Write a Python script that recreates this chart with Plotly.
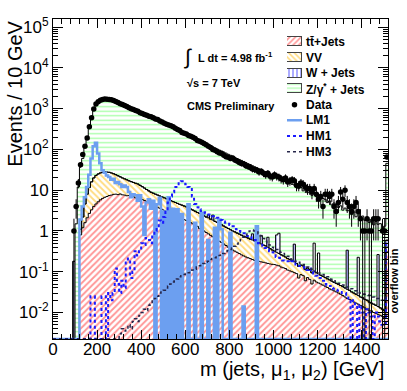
import numpy as np
import plotly.graph_objects as go

# 10 GeV bins, lower edges; the last bin (1510-1520) holds the overflow
bin_lo = np.arange(0, 1520, 10)

data_counts = [
    0, 0, 0, 0, 0, 0, 0, 0, 0, 1,
    4, 15, 42, 75, 120, 190, 360, 600, 980, 1300,
    1480, 1600, 1680, 1720, 1700, 1690, 1650, 1580, 1500, 1420,
    1330, 1260, 1190, 1130, 1060, 1000, 950, 900, 860, 800,
    760, 720, 690, 650, 630, 600, 560, 540, 500, 470,
    440, 415, 400, 380, 360, 330, 310, 290, 260, 250,
    240, 220, 210, 200, 185, 165, 160, 150, 140, 130,
    120, 112, 100, 95, 88, 82, 80, 72, 66, 64,
    60, 62, 55, 52, 48, 45, 44, 40, 38, 36,
    33, 32, 31, 28, 29, 26, 24, 26, 22, 21,
    24, 22, 21, 19, 18, 20, 16, 17, 18, 17,
    13, 13, 15, 14, 12, 11, 11, 9, 11, 8,
    6, 7, 4, 8, 8, 7, 8, 4, 3, 5,
    9, 6, 10, 5, 4, 3, 4, 5, 3, 2,
    1, 1, 2, 1, 1, 2, 2, 2, 0, 1,
    1, 65,
]

ttbar = [
    0, 0, 0, 0, 0, 0, 0, 0, 0, 0,
    0, 0, 0.8, 1.2, 1.6, 2.1, 2.7, 3.3, 4.0, 4.6,
    5.2, 5.8, 6.3, 6.7, 7.0, 7.4, 7.6, 7.9, 8.0, 7.8,
    8.1, 7.7, 7.6, 7.3, 7.4, 7.0, 6.9, 6.5, 6.6, 6.2,
    5.9, 5.6, 5.3, 5.0, 4.7, 4.4, 4.1, 3.8, 3.6, 3.4,
    3.2, 3.05, 2.9, 2.8, 2.6, 2.45, 2.3, 2.15, 2.0, 1.9,
    1.8, 1.7, 1.6, 1.5, 1.4, 1.3, 1.15, 1.07, 1.0, 0.92,
    0.85, 0.78, 0.72, 0.66, 0.6, 0.56, 0.52, 0.48, 0.44, 0.4,
    0.36, 0.34, 0.32, 0.3, 0.28, 0.26, 0.245, 0.23, 0.22, 0.21,
    0.2, 0.19, 0.185, 0.18, 0.175, 0.17, 0.165, 0.16, 0.155, 0.152,
    0.15, 0.145, 0.14, 0.13, 0.125, 0.12, 0.11, 0.105, 0.1, 0.095,
    0.09, 0.07, 0.085, 0.08, 0.06, 0.072, 0.065, 0.05, 0.062, 0.056,
    0.053, 0.05, 0.047, 0.044, 0.041, 0.038, 0.036, 0.034, 0.032, 0.03,
    0.028, 0.026, 0.024, 0.022, 0.021, 0.02, 0.018, 0.017, 0.016, 0.015,
    0.014, 0.013, 0.012, 0.011, 0.011, 0.01, 0.0095, 0.009, 0.0085, 0.008,
    0.0075, 0.3,
]

vv = [
    0, 0, 0, 0, 0, 0, 0, 0, 0, 0,
    0, 0, 0.3, 1.0, 3.0, 5.9, 9.0, 12.7, 16, 18.4,
    19.8, 20.7, 21.2, 21.3, 20.8, 20.1, 18.9, 17.4, 16, 14.8,
    13.2, 12.3, 11.4, 10.7, 9.6, 9.2, 8.6, 8.3, 7.6, 7.0,
    6.3, 5.7, 5.1, 4.6, 4.2, 4.05, 3.9, 3.8, 3.6, 3.45,
    3.3, 3.1, 2.95, 2.75, 2.65, 2.55, 2.45, 2.35, 2.3, 2.2,
    2.1, 1.95, 1.85, 1.75, 1.65, 1.55, 1.55, 1.43, 1.35, 1.28,
    1.25, 1.17, 1.13, 1.06, 1.02, 0.96, 0.9, 0.84, 0.79, 0.75,
    0.71, 0.66, 0.63, 0.59, 0.56, 0.53, 0.5, 0.48, 0.45, 0.42,
    0.4, 0.38, 0.355, 0.33, 0.305, 0.28, 0.265, 0.24, 0.215, 0.19,
    0.17, 0.155, 0.14, 0.13, 0.12, 0.11, 0.1, 0.095, 0.085, 0.08,
    0.07, 0.065, 0.06, 0.059, 0.055, 0.052, 0.048, 0.044, 0.041, 0.038,
    0.035, 0.032, 0.03, 0.028, 0.026, 0.025, 0.023, 0.021, 0.02, 0.019,
    0.018, 0.017, 0.016, 0.015, 0.014, 0.012, 0.012, 0.011, 0.01, 0.009,
    0.009, 0.008, 0.008, 0.007, 0.006, 0.006, 0.0055, 0.005, 0.0045, 0.004,
    0.0035, 0.1,
]

wjets = [
    0, 0, 0, 0, 0, 0, 0, 0, 0, 0.18,
    0, 0, 0, 0, 0, 0, 0, 0, 0, 0,
    0, 0, 0, 0, 0, 0, 0, 0, 0, 0,
    0, 0, 0, 0, 0, 0, 0, 0, 0, 0,
    0, 0, 0, 0, 0, 0, 0, 0, 0, 0,
    0, 0, 0, 0, 0, 0, 0, 0, 0, 0,
    0, 0, 0, 0, 0, 0, 0, 0, 0, 0,
    0.4, 0, 0.6, 0, 0, 0, 0, 0, 0, 0,
    0, 0, 0, 0, 0, 0, 0, 0, 0, 0,
    0.25, 0, 0, 0, 0.3, 0, 0, 0.3, 0, 0,
    0, 0.5, 0.6, 0, 0, 0, 0, 0, 0, 0.3,
    0, 0, 0, 0, 0, 0, 0, 0, 0.4, 0,
    0.2, 0, 0, 0, 0, 0, 0, 0, 0, 0,
    0, 0, 0, 0.3, 0, 0, 0, 0, 0.2, 0,
    0, 0, 0, 0, 0, 0, 0, 0.25, 0, 0,
    0, 0.2,
]

zjets = [
    0, 0, 0, 0, 0, 0, 0, 0, 0, 0,
    1.5, 12, 38, 58, 115, 175, 320, 550, 880, 1230,
    1460, 1600, 1700, 1750, 1760, 1740, 1690, 1600, 1510, 1425,
    1340, 1265, 1192, 1124, 1060, 1000, 943, 889, 838, 790,
    745, 703, 663, 625, 589, 556, 524, 494, 466, 439,
    414, 391, 368, 347, 328, 309, 291, 275, 259, 244,
    230, 217, 205, 193, 182, 172, 162, 153, 144, 136,
    128, 121, 114, 107, 101, 95, 90, 85, 80, 75,
    71, 67, 63, 59, 56, 53, 50, 47, 44, 42,
    39, 37, 35, 33, 31, 29, 28, 26, 25, 23,
    22, 21, 19.5, 18.5, 17.5, 16.5, 15.5, 14.6, 13.8, 13,
    12.2, 10.8, 11.6, 9.5, 10.4, 8.6, 9.1, 7.4, 8.2, 6.9,
    7.3, 6.0, 6.2, 5.9, 4.9, 5.4, 4.3, 4.8, 4.4, 3.7,
    4.1, 3.2, 3.6, 2.8, 3.2, 2.5, 2.9, 2.2, 2.6, 1.9,
    2.3, 1.8, 2.1, 1.6, 1.9, 1.4, 1.7, 1.2, 1.5, 1.1,
    1.3, 45,
]

lm1 = [
    0, 0, 0, 0, 0, 0, 0, 0, 0, 0,
    0, 0, 1.9, 4, 6.7, 12, 24, 60, 120, 145,
    80, 46, 31, 27, 23, 21, 18, 19, 15, 16,
    14, 12, 13, 12, 9, 6.7, 8, 7.5, 5.5, 7.5,
    4, 0.8, 5, 6, 3.5, 5.5, 0, 4.5, 6.5, 0,
    3, 0, 6.7, 0, 3.5, 0, 3.4, 0, 2.6, 0,
    0, 4.5, 0, 0, 1.6, 0, 0, 2.8, 0, 0,
    0.6, 0, 0, 1.2, 0, 1.9, 1.1, 0, 0, 0,
    0.9, 0, 0, 0, 0, 0, 0.014, 0, 0, 0,
    0, 0, 1.3, 0, 0, 0, 0, 0, 0, 0,
    0, 0, 0, 0, 0, 0, 0, 0, 0, 0,
    0, 0, 0, 0, 0, 0, 0, 0, 0, 0,
    0, 0, 0, 0, 0, 0, 0, 0, 0, 0,
    0, 0, 0, 0, 0, 0, 0, 0, 0, 0,
    0, 0, 0, 0, 0, 0, 0, 0, 0, 0,
    0, 0,
]

hm1 = [
    0, 0, 0, 0, 0, 0, 0, 0, 0, 0,
    0, 0, 0, 0, 0, 0, 0, 0.025, 0.025, 0,
    0, 0, 0.025, 0.025, 0, 0.03, 0.02, 0.03, 0.12, 0.05,
    0.03, 0.06, 0.04, 0.2, 0.21, 0.07, 0.1, 0.32, 0.25, 0.32,
    0.5, 0.45, 0.67, 0.6, 0.5, 0.8, 1.0, 1.3, 1.8, 1.6,
    2.2, 3.4, 5, 7, 8.9, 12, 14, 15.8, 16.6, 16.6,
    14, 12, 10.7, 7, 4.6, 3.8, 3.4, 3.1, 2.9, 2.7,
    2.55, 2.4, 2.3, 2.2, 2.1, 2.0, 1.85, 1.7, 1.6, 1.5,
    1.4, 1.3, 1.2, 1.1, 1.0, 0.95, 0.88, 0.8, 0.75, 0.7,
    0.66, 0.6, 0.55, 0.5, 0.46, 0.42, 0.38, 0.35, 0.32, 0.3,
    0.27, 0.23, 0.22, 0.2, 0.19, 0.18, 0.18, 0.17, 0.18, 0.16,
    0.15, 0.14, 0.13, 0.13, 0.12, 0.11, 0.12, 0.1, 0.09, 0.08,
    0.075, 0.07, 0.06, 0.05, 0.046, 0.045, 0.04, 0.038, 0.036, 0.034,
    0.032, 0.03, 0.03, 0.025, 0.02, 0, 0.02, 0.015, 0, 0.015,
    0.01, 0, 0.012, 0.01, 0.008, 0, 0.01, 0.008, 0.006, 0.005,
    0.005, 0.5,
]

hm3 = [
    0, 0, 0, 0, 0, 0, 0, 0, 0, 0,
    0, 0, 0, 0, 0, 0, 0, 0, 0, 0,
    0, 0, 0, 0, 0, 0, 0, 0, 0, 0,
    0.003, 0.004, 0.0035, 0.004, 0.005, 0.004, 0.006, 0.007, 0.006, 0.0085,
    0.01, 0.012, 0.011, 0.015, 0.016, 0.02, 0.022, 0.025, 0.03, 0.032,
    0.035, 0.04, 0.045, 0.05, 0.056, 0.06, 0.066, 0.075, 0.08, 0.085,
    0.09, 0.095, 0.1, 0.11, 0.115, 0.13, 0.14, 0.15, 0.16, 0.17,
    0.18, 0.2, 0.21, 0.22, 0.24, 0.25, 0.26, 0.28, 0.3, 0.33,
    0.35, 0.38, 0.42, 0.48, 0.55, 0.62, 0.7, 0.8, 0.9, 1.0,
    1.05, 1.0, 0.95, 0.85, 0.75, 0.65, 0.56, 0.5, 0.45, 0.4,
    0.38, 0.35, 0.32, 0.3, 0.28, 0.26, 0.24, 0.22, 0.2, 0.19,
    0.18, 0.17, 0.16, 0.15, 0.14, 0.13, 0.12, 0.115, 0.11, 0.1,
    0.095, 0.09, 0.085, 0.08, 0.075, 0.07, 0.065, 0.06, 0.056, 0.052,
    0.05, 0.047, 0.044, 0.042, 0.04, 0.038, 0.036, 0.034, 0.032, 0.03,
    0.029, 0.028, 0.027, 0.026, 0.025, 0.024, 0.023, 0.022, 0.021, 0.02,
    0.02, 0.3,
]

for arr in (data_counts, ttbar, vv, wjets, zjets, lm1, hm1, hm3):
    assert len(arr) == len(bin_lo)

FONT = "Liberation Sans, Arial, sans-serif"
YMIN, YMAX = -2.65, 5.2
floor = 10 ** YMIN

centers = bin_lo + 5
edges = np.append(bin_lo, bin_lo[-1] + 10)


def step_y(vals):
    # empty bins sit on the bottom of the frame, like ROOT does on a log axis
    v = np.asarray(vals, dtype=float)
    v = np.where(v > 0, v, floor)
    return np.append(v, v[-1])


stack = [
    ("t\u0074\u0304+Jets", ttbar, "/", "#ff2a2a", 0.4),
    ("VV", vv, "\\", "#ffb800", 0.4),
    ("W + Jets", wjets, "|", "#2f2fff", 0.4),
    ("Z/\u03b3<sup>*</sup> + Jets", zjets, "-", "#4dff4d", 0.3),
]

fig = go.Figure()

for name, vals, shape, col, sol in stack:
    fig.add_trace(go.Bar(
        x=centers, y=vals, width=10,
        marker=dict(color="white", line_width=0,
                    pattern=dict(shape=shape, fgcolor=col, bgcolor="white",
                                 size=4.5, solidity=sol)),
        hoverinfo="skip", showlegend=False,
    ))

# black step outlines on top of each stack layer
cum = np.zeros(len(bin_lo))
for name, vals, shape, col, sol in stack:
    cum = cum + np.asarray(vals, dtype=float)
    fig.add_trace(go.Scatter(
        x=edges, y=step_y(cum), mode="lines",
        line=dict(color="black", width=1, shape="hv"),
        hoverinfo="skip", showlegend=False,
    ))

signals = [
    ("LM1", lm1, "#6c9ff0", 2.5, "solid"),
    ("HM1", hm1, "#1a1aff", 2, "dot"),
    ("HM3", hm3, "#26264a", 1.5, "dot"),
]
for name, vals, col, w, dash in signals:
    fig.add_trace(go.Scatter(
        x=edges, y=step_y(vals), mode="lines",
        line=dict(color=col, width=w, shape="hv", dash=dash),
        hoverinfo="skip", showlegend=False,
    ))

d = np.asarray(data_counts, dtype=float)
has = d > 0
err = np.sqrt(d[has])
err_lo = np.minimum(err, d[has] - 1e-4)
fig.add_trace(go.Scatter(
    x=centers[has], y=d[has], mode="markers",
    marker=dict(color="black", size=5.5),
    error_y=dict(type="data", array=err, arrayminus=err_lo,
                 color="black", thickness=1, width=0),
    hoverinfo="skip", showlegend=False,
))

# hand-made legend in a small hidden subplot
for i, (name, vals, shape, col, sol) in enumerate(stack):
    fig.add_trace(go.Bar(
        x=[1], y=[7 - i], orientation="h", width=0.58,
        xaxis="x2", yaxis="y2", cliponaxis=False,
        marker=dict(color="white", line=dict(color="#444444", width=1),
                    pattern=dict(shape=shape, fgcolor=col, bgcolor="white",
                                 size=4, solidity=sol)),
        hoverinfo="skip", showlegend=False,
    ))
fig.add_trace(go.Scatter(
    x=[0.5], y=[3], mode="markers", xaxis="x2", yaxis="y2",
    marker=dict(color="black", size=5.5), cliponaxis=False,
    hoverinfo="skip", showlegend=False,
))
for j, (name, vals, col, w, dash) in enumerate(signals):
    fig.add_trace(go.Scatter(
        x=[0, 1], y=[2 - j, 2 - j], mode="lines", xaxis="x2", yaxis="y2",
        line=dict(color=col, width=w, dash=dash), cliponaxis=False,
        hoverinfo="skip", showlegend=False,
    ))

legend_labels = [s[0] for s in stack] + ["Data"] + [s[0] for s in signals]
annotations = []
for i, lab in enumerate(legend_labels):
    annotations.append(dict(
        text="<b>%s</b>" % lab, xref="paper", yref="y2", x=0.749, y=7 - i,
        xanchor="left", yanchor="middle", showarrow=False,
        font=dict(size=12, color="black", family=FONT),
    ))

annotations += [
    dict(text="\u222b", x=0.403, y=0.881, font=dict(size=21)),
    dict(text="<b>L dt = 4.98 fb<sup>-1</sup></b>", x=0.427, y=0.881,
         xanchor="left", font=dict(size=11)),
    dict(text="<b>\u221as = 7 TeV</b>", x=0.394, y=0.80, xanchor="left",
         font=dict(size=11)),
    dict(text="<b>CMS Preliminary</b>", x=0.394, y=0.728, xanchor="left",
         font=dict(size=11)),
    dict(text="<b>overflow bin</b>", x=1.018, y=0.18, textangle=-90,
         font=dict(size=11)),
    dict(text="m (jets, \u03bc<sub>1</sub>, \u03bc<sub>2</sub>) [GeV]",
         x=0.994, y=-0.097, xanchor="right", font=dict(size=20)),
    dict(text="Events / 10 GeV", x=-0.116, y=0.767, textangle=-90,
         font=dict(size=20)),
]
for a in annotations[len(legend_labels):]:
    a.setdefault("xref", "paper")
    a.setdefault("yref", "paper")
    a.setdefault("xanchor", "center")
    a["yanchor"] = "middle"
    a["showarrow"] = False
    a["font"] = dict(family=FONT, color="black", **a["font"])

y_major = [0.01, 0.1, 1, 10, 100, 1e3, 1e4, 1e5]
y_major_text = ["10<sup>-2</sup>", "10<sup>-1</sup>", "1", "10", "10<sup>2</sup>",
                "10<sup>3</sup>", "10<sup>4</sup>", "10<sup>5</sup>"]
y_minor = [k * 10.0 ** e for e in range(-3, 6) for k in range(2, 10)]

fig.update_layout(
    width=407, height=391,
    margin=dict(l=53, r=19, t=19, b=52, autoexpand=False),
    paper_bgcolor="white", plot_bgcolor="rgba(0,0,0,0)",
    font=dict(family=FONT, size=17, color="black"),
    barmode="stack", bargap=0, showlegend=False,
    annotations=annotations,
    xaxis=dict(
        range=[0, 1520], tick0=0, dtick=200, showgrid=False, zeroline=False,
        automargin=False, ticklabelstandoff=-5,
        ticks="inside", ticklen=9, tickwidth=1, tickcolor="black",
        showline=True, linecolor="black", linewidth=1, mirror="ticks",
        minor=dict(dtick=40, tick0=0, ticks="inside", ticklen=5, tickcolor="black"),
    ),
    yaxis=dict(
        type="log", range=[YMIN, YMAX], showgrid=False, zeroline=False,
        automargin=False,
        tickmode="array", tickvals=y_major, ticktext=y_major_text,
        ticks="inside", ticklen=10, tickwidth=1, tickcolor="black",
        showline=True, linecolor="black", linewidth=1, mirror="ticks",
        minor=dict(tickmode="array", tickvals=y_minor, ticks="inside",
                   ticklen=5, tickcolor="black"),
    ),
    xaxis2=dict(domain=[0.6985, 0.7433], range=[0, 1], anchor="y2",
                visible=False, fixedrange=True, automargin=False),
    yaxis2=dict(domain=[0.561, 0.9525], range=[-0.5, 7.5], anchor="x2",
                visible=False, fixedrange=True, automargin=False),
)

# the page body keeps its default 8px margin otherwise
fig.write_html("out.html", config={"displayModeBar": False},
               post_script="document.body.style.margin='0';")
